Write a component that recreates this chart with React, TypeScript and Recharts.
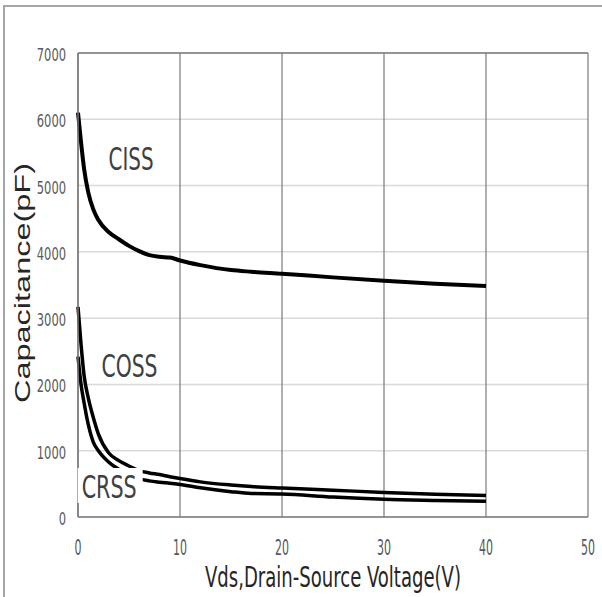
import {
    LineChart,
    Line,
    XAxis,
    YAxis,
    CartesianGrid,
    ReferenceLine,
    ReferenceDot,
    Label,
} from "recharts";

// drain-source voltage (V)
const vds = [0, 0.3, 0.6, 1, 1.5, 2, 3, 4, 5, 6, 7, 8, 9, 10, 12, 15, 17, 20, 25, 30, 35, 40];

// capacitance (pF)
const ciss = [6100, 5650, 5250, 4900, 4640, 4480, 4300, 4190, 4090, 4010, 3950, 3925, 3915, 3870, 3800, 3725, 3700, 3670, 3615, 3565, 3520, 3485];
const coss = [3170, 2600, 2130, 1800, 1500, 1250, 970, 850, 770, 700, 665, 640, 608, 580, 530, 483, 460, 437, 405, 370, 345, 325];
const crss = [2420, 2000, 1720, 1400, 1130, 1000, 830, 720, 640, 575, 545, 525, 508, 490, 440, 382, 355, 347, 300, 267, 250, 237];

const xTicks = [0, 10, 20, 30, 40, 50];
const yTicks = [0, 1000, 2000, 3000, 4000, 5000, 6000, 7000];

// where the curve names sit (text start, baseline)
const tags = [
    { name: "CISS", v: 3.0, c: 5234, len: 45, boxed: false },
    { name: "COSS", v: 2.3, c: 2116, len: 56, boxed: false },
    { name: "CRSS", v: 0.36, c: 287, len: 55, boxed: true },
];

const data = vds.map((v, i) => ({ v, ciss: ciss[i], coss: coss[i], crss: crss[i] }));

const narrow = "'Liberation Sans Narrow', 'DejaVu Sans Condensed', sans-serif";

// the source uses a very condensed face, so squeeze glyphs to the measured width
const xTick = (props: any) => {
    const s = String(props.payload.value);
    return (
        <text
            x={props.x}
            y={props.y}
            dy="0.71em"
            textAnchor="middle"
            fontFamily={narrow}
            fontSize={21}
            fill="#595959"
            textLength={s.length * 7}
            lengthAdjust="spacingAndGlyphs"
        >
            {s}
        </text>
    );
};

const yTick = (props: any) => {
    const s = String(props.payload.value);
    return (
        <text
            x={props.x}
            y={props.y}
            dy={2}
            textAnchor="end"
            dominantBaseline="central"
            fontFamily={narrow}
            fontSize={17}
            fill="#595959"
            textLength={s.length * 7.3}
            lengthAdjust="spacingAndGlyphs"
        >
            {s}
        </text>
    );
};

const tagShape = (name: string, len: number, boxed: boolean) => (props: any) => (
    <g>
        {boxed && (
            <rect x={props.cx - 4} y={props.cy - 30} width={len + 10} height={35} fill="#fff" />
        )}
        <text
            x={props.cx}
            y={props.cy}
            fontFamily={narrow}
            fontSize={32}
            fill="#404040"
            textLength={len}
            lengthAdjust="spacingAndGlyphs"
        >
            {name}
        </text>
    </g>
);

const yTitle = (props: any) => {
    const vb = props.viewBox;
    const cx = vb.x - 6;
    const cy = vb.y + vb.height / 2 - 2;
    return (
        <text
            x={cx}
            y={cy}
            transform={`rotate(-90 ${cx} ${cy})`}
            textAnchor="middle"
            dominantBaseline="central"
            fontFamily="'Liberation Sans', Arial, sans-serif"
            fontSize={22}
            fill="#262626"
            textLength={240}
            lengthAdjust="spacingAndGlyphs"
        >
            Capacitance(pF)
        </text>
    );
};

const xTitle = (props: any) => {
    const vb = props.viewBox;
    return (
        <text
            x={vb.x + vb.width / 2}
            y={577}
            textAnchor="middle"
            dominantBaseline="central"
            fontFamily={narrow}
            fontSize={28}
            fill="#262626"
            textLength={256}
            lengthAdjust="spacingAndGlyphs"
        >
            Vds,Drain-Source Voltage(V)
        </text>
    );
};

export default function App() {
    return (
        <div style={{ position: "fixed", left: 0, top: 0, width: 602, height: 597, background: "#fff" }}>
            <LineChart
                width={602}
                height={597}
                data={data}
                margin={{ top: 53, right: 14, bottom: 50, left: 28 }}
            >
                <CartesianGrid vertical={false} stroke="#d9d9d9" strokeWidth={1.5} />
                <CartesianGrid horizontal={false} stroke="#7a7a7a" strokeWidth={1.2} />
                <XAxis
                    dataKey="v"
                    type="number"
                    domain={[0, 50]}
                    ticks={xTicks}
                    height={30}
                    tickLine={false}
                    tickSize={0}
                    tickMargin={23}
                    axisLine={{ stroke: "#7a7a7a", strokeWidth: 1.5 }}
                    tick={xTick}
                >
                    <Label content={xTitle} />
                </XAxis>
                <YAxis
                    type="number"
                    domain={[0, 7000]}
                    ticks={yTicks}
                    width={50}
                    tickLine={false}
                    tickSize={0}
                    tickMargin={12}
                    axisLine={{ stroke: "#7a7a7a", strokeWidth: 1.5 }}
                    tick={yTick}
                >
                    <Label content={yTitle} />
                </YAxis>
                <ReferenceLine y={7000} stroke="#7a7a7a" strokeWidth={1.5} />
                <Line dataKey="ciss" type="monotone" stroke="#000" strokeWidth={4} dot={false} isAnimationActive={false} />
                <Line dataKey="coss" type="monotone" stroke="#000" strokeWidth={3.5} dot={false} isAnimationActive={false} />
                <Line dataKey="crss" type="monotone" stroke="#000" strokeWidth={3.5} dot={false} isAnimationActive={false} />
                {tags.map((t) => (
                    <ReferenceDot
                        key={t.name}
                        x={t.v}
                        y={t.c}
                        r={0}
                        shape={tagShape(t.name, t.len, t.boxed)}
                    />
                ))}
            </LineChart>
            <div
                style={{
                    position: "absolute",
                    left: 3,
                    top: 5,
                    right: 0,
                    bottom: 0,
                    borderTop: "2px solid #a6a6a6",
                    borderLeft: "2px solid #a6a6a6",
                    pointerEvents: "none",
                }}
            />
        </div>
    );
}
